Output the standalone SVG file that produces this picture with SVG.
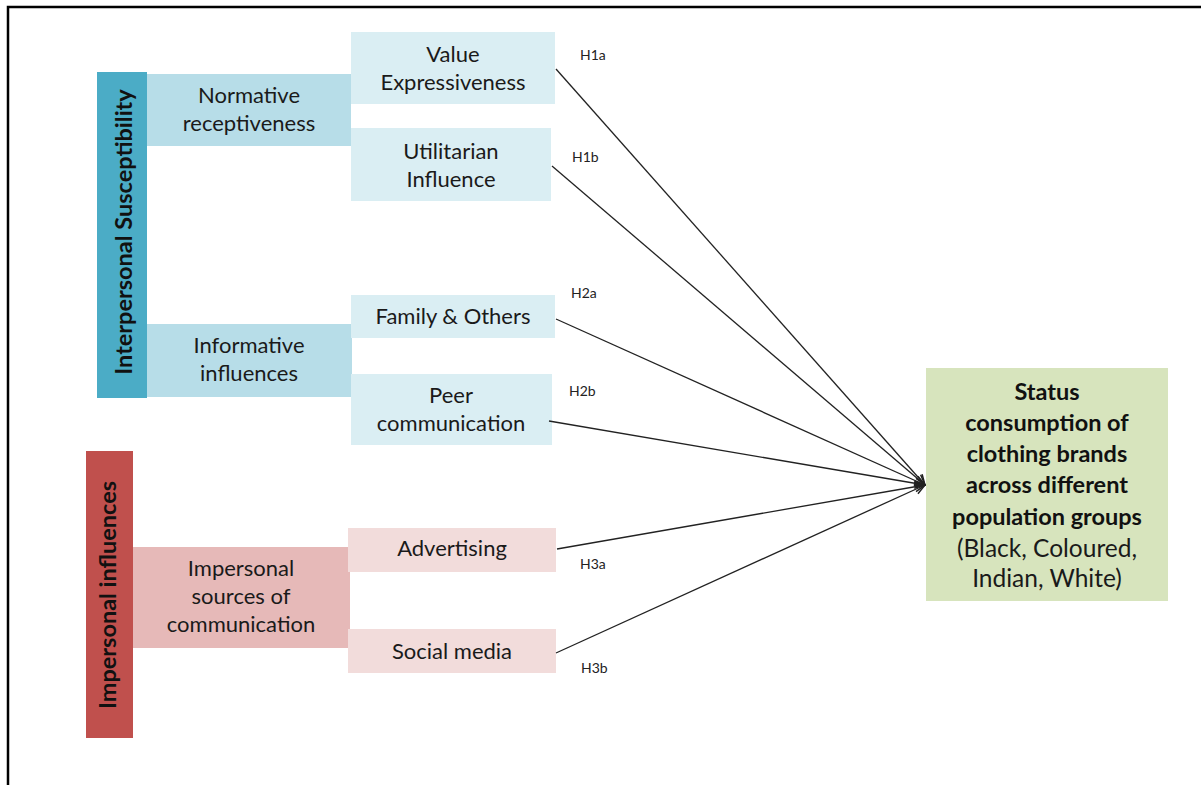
<svg xmlns="http://www.w3.org/2000/svg" width="1201" height="785" viewBox="0 0 1201 785">
<style>
.t{font-family:Lato,"Liberation Sans",sans-serif;font-size:22px;fill:#1a1a1a;text-anchor:middle}
.b{font-family:Lato,"Liberation Sans",sans-serif;font-size:23.5px;font-weight:bold;fill:#111;text-anchor:middle}
.s{font-size:24.5px}
.h{font-family:Lato,"Liberation Sans",sans-serif;font-size:14px;fill:#222}
.c line{stroke:#222;stroke-width:1.3;marker-end:url(#ar)}
</style>
<defs>
<marker id="ar" viewBox="0 0 12 12" refX="11" refY="6" markerWidth="12" markerHeight="12" markerUnits="userSpaceOnUse" orient="auto">
<path d="M1,1 L11,6 L1,11" fill="none" stroke="#222" stroke-width="1.5"/>
</marker>
</defs>
<rect width="1201" height="785" fill="#fff"/>
<path d="M8,785 V7 H1201" fill="none" stroke="#000" stroke-width="2.5"/>

<g id="interpersonal">
<rect x="97" y="72" width="50" height="326" fill="#4BACC6"/>
<text class="b" transform="translate(132,232) rotate(-90)">Interpersonal Susceptibility</text>
</g>
<g id="normative">
<rect x="147" y="74" width="204" height="72" fill="#B7DDE8"/>
<text class="t" x="249" y="103">Normative</text>
<text class="t" x="249" y="131">receptiveness</text>
</g>
<g id="value">
<rect x="351" y="32" width="204" height="72" fill="#DAEEF3"/>
<text class="t" x="453" y="62">Value</text>
<text class="t" x="453" y="90">Expressiveness</text>
</g>
<g id="utilitarian">
<rect x="351" y="128" width="200" height="73" fill="#DAEEF3"/>
<text class="t" x="451" y="159">Utilitarian</text>
<text class="t" x="451" y="187">Influence</text>
</g>
<g id="informative">
<rect x="147" y="324" width="205" height="73" fill="#B7DDE8"/>
<text class="t" x="249" y="353">Informative</text>
<text class="t" x="249" y="381">influences</text>
</g>
<g id="family">
<rect x="351" y="295" width="204" height="43" fill="#DAEEF3"/>
<text class="t" x="453" y="324">Family &amp; Others</text>
</g>
<g id="peer">
<rect x="351" y="374" width="201" height="71" fill="#DAEEF3"/>
<text class="t" x="451" y="403">Peer</text>
<text class="t" x="451" y="431">communication</text>
</g>

<g id="impersonal">
<rect x="86" y="451" width="47" height="287" fill="#C0504D"/>
<text class="b" transform="translate(116,595) rotate(-90)">Impersonal influences</text>
</g>
<g id="sources">
<rect x="133" y="547" width="217" height="101" fill="#E6B9B8"/>
<text class="t" x="241" y="576">Impersonal</text>
<text class="t" x="241" y="604">sources of</text>
<text class="t" x="241" y="632">communication</text>
</g>
<g id="advertising">
<rect x="348" y="528" width="208" height="44" fill="#F2DCDB"/>
<text class="t" x="452" y="556">Advertising</text>
</g>
<g id="social">
<rect x="348" y="629" width="208" height="44" fill="#F2DCDB"/>
<text class="t" x="452" y="659">Social media</text>
</g>

<g id="status">
<rect x="926" y="368" width="242" height="233" fill="#D7E4BD"/>
<text class="b" x="1047" y="400">Status</text>
<text class="b" x="1047" y="431">consumption of</text>
<text class="b" x="1047" y="462">clothing brands</text>
<text class="b" x="1047" y="493">across different</text>
<text class="b" x="1047" y="525">population groups</text>
<text class="t s" x="1047" y="557">(Black, Coloured,</text>
<text class="t s" x="1047" y="587">Indian, White)</text>
</g>

<g id="connectors" class="c">
<line x1="556" y1="69" x2="925" y2="485"/>
<line x1="552" y1="166" x2="925" y2="485"/>
<line x1="556" y1="319" x2="925" y2="485"/>
<line x1="549" y1="421" x2="925" y2="485"/>
<line x1="557" y1="549" x2="925" y2="485"/>
<line x1="556" y1="653" x2="925" y2="485"/>
</g>
<g id="labels">
<text class="h" x="580" y="60">H1a</text>
<text class="h" x="572" y="162">H1b</text>
<text class="h" x="571" y="298">H2a</text>
<text class="h" x="569" y="396">H2b</text>
<text class="h" x="580" y="569">H3a</text>
<text class="h" x="581" y="673">H3b</text>
</g>
</svg>
